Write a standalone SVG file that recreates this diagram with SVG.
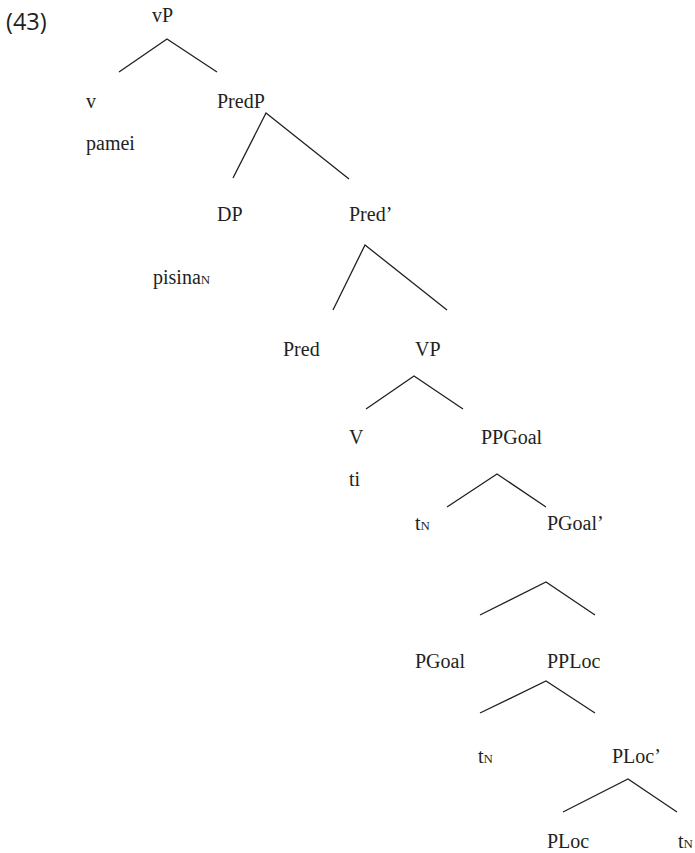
<svg xmlns="http://www.w3.org/2000/svg" width="695" height="853" viewBox="0 0 695 853">
<style>
.t{font-family:"Liberation Serif","Times New Roman",serif;font-size:20px;fill:#231f20}
.s{font-size:13px}
.n{font-family:"Open Sans","Noto Sans",sans-serif;font-size:23.5px;fill:#231f20}
.e{stroke:#231f20;stroke-width:1.3;fill:none}
</style>
<rect width="695" height="853" fill="#fff"/>
<text class="n" x="6" y="30">(43)</text>
<g id="connectors">
<polyline class="e" points="119,72 167,39 217,72"/>
<polyline class="e" points="233,178 266,113 349,179"/>
<polyline class="e" points="333,310 365,245 447,310"/>
<polyline class="e" points="366,409 414,376 463,409"/>
<polyline class="e" points="447,507 497,474 546,507"/>
<polyline class="e" points="480,615 546,582 595,615"/>
<polyline class="e" points="480,713 546,681 595,713"/>
<polyline class="e" points="563,812 628,779 677,812"/>
</g>
<g id="n-vP"><text class="t" x="152" y="22">vP</text></g>
<g id="n-v"><text class="t" x="86" y="108">v</text><text class="t" x="86" y="150">pamei</text></g>
<g id="n-PredP"><text class="t" x="217" y="108">PredP</text></g>
<g id="n-DP"><text class="t" x="217" y="221">DP</text><text class="t" x="153" y="284">pisina<tspan class="s">N</tspan></text></g>
<g id="n-Predbar"><text class="t" x="349" y="221">Pred’</text></g>
<g id="n-Pred"><text class="t" x="283" y="356">Pred</text></g>
<g id="n-VP"><text class="t" x="415" y="356">VP</text></g>
<g id="n-V"><text class="t" x="349" y="444">V</text><text class="t" x="349" y="486">ti</text></g>
<g id="n-PPGoal"><text class="t" x="481" y="444">PPGoal</text></g>
<g id="n-tN1"><text class="t" x="415" y="530">t<tspan class="s">N</tspan></text></g>
<g id="n-PGoalbar"><text class="t" x="547" y="530">PGoal’</text></g>
<g id="n-PGoal"><text class="t" x="415" y="668">PGoal</text></g>
<g id="n-PPLoc"><text class="t" x="547" y="668">PPLoc</text></g>
<g id="n-tN2"><text class="t" x="478" y="763">t<tspan class="s">N</tspan></text></g>
<g id="n-PLocbar"><text class="t" x="612" y="763">PLoc’</text></g>
<g id="n-PLoc"><text class="t" x="547" y="848">PLoc</text></g>
<g id="n-tN3"><text class="t" x="678" y="848">t<tspan class="s">N</tspan></text></g>
</svg>
